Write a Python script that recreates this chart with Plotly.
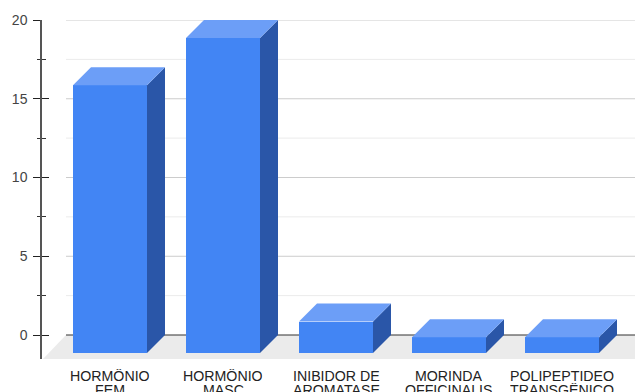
import plotly.graph_objects as go

# Data
categories = ["HORMÔNIO\nFEM", "HORMÔNIO\nMASC", "INIBIDOR DE\nAROMATASE",
              "MORINDA\nOFFICINALIS", "POLIPEPTIDEO\nTRANSGÊNICO"]
values = [17, 20, 2, 1, 1]
y_major = [5, 10, 15, 20]
y_minor = [2.5, 7.5, 12.5, 17.5]

# Figure geometry (pixels)
W, H = 635, 392
PLOT_L, PLOT_R, PLOT_T, PLOT_B = 42, 635, 20, 359
X0_PX, STEP_PX = 110, 113          # first category centre, spacing
ZERO_PX, UNIT_PX = 335, 15.75      # y=0 pixel row and pixels per unit
LABEL_LINE_PX = 14                 # line spacing of category labels

def px_x(p):
    return (p - X0_PX) / STEP_PX

def px_y(p):
    return (ZERO_PX - p) / UNIT_PX

BAR_W = 74 / STEP_PX
DX = 18 / STEP_PX     # 3D depth offset, x units
DY = 18 / UNIT_PX     # 3D depth offset, y units

FRONT = "#4285F4"
TOP = "#6C9EF7"
SIDE = "#2A56A8"

xs = list(range(len(categories)))
fig = go.Figure()

# Front faces
fig.add_trace(go.Bar(
    x=xs, y=values, base=[-DY] * len(values), width=BAR_W,
    marker=dict(color=FRONT, line=dict(width=0)),
    hoverinfo="skip", showlegend=False,
))

# Side and top faces
for x, v in zip(xs, values):
    xl, xr = x - BAR_W / 2, x + BAR_W / 2
    fig.add_trace(go.Scatter(
        x=[xr, xr + DX, xr + DX, xr, xr], y=[-DY, 0, v, v - DY, -DY],
        fill="toself", fillcolor=SIDE, mode="lines", line=dict(width=0),
        hoverinfo="skip", showlegend=False,
    ))
    fig.add_trace(go.Scatter(
        x=[xl, xl + DX, xr + DX, xr, xl], y=[v - DY, v, v, v - DY, v - DY],
        fill="toself", fillcolor=TOP, mode="lines", line=dict(width=0),
        hoverinfo="skip", showlegend=False,
    ))

# Floor, back-wall gridlines and baseline
shapes = []
fl_front_y = px_y(PLOT_B)
shapes.append(dict(
    type="path", xref="x", yref="y", layer="below",
    path=(f"M {px_x(43)},{fl_front_y} L {px_x(66)},0 L {px_x(660)},0 "
          f"L {px_x(637)},{fl_front_y} Z"),
    fillcolor="#EBEBEB", line=dict(width=0),
))
for v in y_minor:
    shapes.append(dict(type="line", xref="x", yref="y", layer="below",
                       x0=px_x(66), x1=px_x(640), y0=v, y1=v,
                       line=dict(color="#EBEBEB", width=1)))
for v in y_major:
    shapes.append(dict(type="line", xref="x", yref="y", layer="below",
                       x0=px_x(66), x1=px_x(640), y0=v, y1=v,
                       line=dict(color="#CCCCCC", width=1)))
shapes.append(dict(type="line", xref="x", yref="y", layer="below",
                   x0=px_x(66), x1=px_x(640), y0=0, y1=0,
                   line=dict(color="#333333", width=1.2)))

# Category labels, one annotation per line for tight line spacing
annotations = []
for x, label in zip(xs, categories):
    for k, line in enumerate(label.split("\n")):
        annotations.append(dict(
            x=x, xref="x", y=0, yref="paper", yanchor="top", xanchor="center",
            text=line, showarrow=False,
            height=LABEL_LINE_PX, borderpad=0, valign="middle",
            yshift=-9 - k * LABEL_LINE_PX,
            font=dict(size=14.2, color="#222222"),
        ))

tick_vals = [0] + y_major
yaxis_common = dict(
    range=[px_y(PLOT_B), px_y(PLOT_T)],
    tickvals=tick_vals, showgrid=False, zeroline=False,
    ticklen=7, tickwidth=1.2, tickcolor="#222222",
    minor=dict(tickvals=y_minor, ticklen=3.5, tickwidth=1, tickcolor="#333333",
               showgrid=False),
    fixedrange=True, automargin=False,
)

fig.update_layout(
    width=W, height=H,
    margin=dict(l=PLOT_L, r=W - PLOT_R, t=PLOT_T, b=H - PLOT_B, pad=0,
                autoexpand=False),
    paper_bgcolor="white", plot_bgcolor="white",
    bargap=0, barmode="overlay",
    shapes=shapes, annotations=annotations,
    font=dict(family="Liberation Sans, Arial, sans-serif", color="#222222"),
    xaxis=dict(
        range=[px_x(PLOT_L), px_x(PLOT_R)],
        tickvals=xs, showticklabels=False, ticks="",
        showgrid=False, zeroline=False, showline=False,
        fixedrange=True, automargin=False,
    ),
    yaxis=dict(
        **yaxis_common,
        ticks="outside",
        minor_ticks="outside",
        showline=True, linecolor="#555555", linewidth=1.5,
        tickfont=dict(size=14, color="#444444"),
        ticklabelstandoff=3,
    ),
    yaxis2=dict(
        **yaxis_common,
        overlaying="y", side="left", anchor="x",
        ticks="inside", minor_ticks="inside",
        showline=False, showticklabels=False,
    ),
)

# Invisible trace so the second axis is drawn
fig.add_trace(go.Scatter(x=[0], y=[0], yaxis="y2", mode="markers",
                         marker=dict(opacity=0), hoverinfo="skip",
                         showlegend=False))

fig.write_html("out.html")
